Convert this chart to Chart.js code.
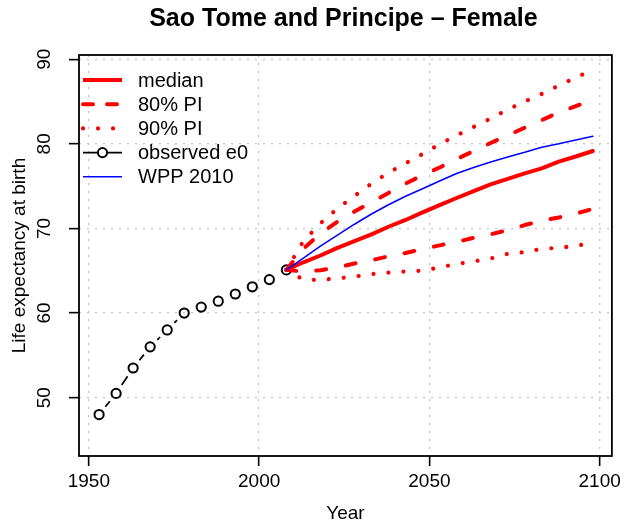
<!DOCTYPE html>
<html>
<head>
<meta charset="utf-8">
<title>Sao Tome and Principe - Female</title>
<script src="https://cdn.jsdelivr.net/npm/chart.js@4.4.1/dist/chart.umd.min.js"></script>
<style>
  html, body { margin: 0; padding: 0; background: #fff; }
  #wrap { width: 625px; height: 529px; }
</style>
</head>
<body>
<div id="wrap"><canvas id="e0chart" width="625" height="529"></canvas></div>
<script>
// observed life expectancy at birth (five-year periods)
const obsYears = [1953, 1958, 1963, 1968, 1973, 1978, 1983, 1988, 1993, 1998, 2003, 2008];
const observedE0 = [48.0, 50.5, 53.5, 56.0, 58.0, 60.0, 60.7, 61.4, 62.25, 63.1, 63.95, 65.1];

// projections
const projYears = [2008, 2013, 2018, 2023, 2028, 2033, 2038, 2043, 2048, 2053,
                   2058, 2063, 2068, 2073, 2078, 2083, 2088, 2093, 2098];
const medianE0 = [65.1, 66.0, 66.8, 67.7, 68.5, 69.3, 70.2, 71.0, 71.9, 72.75,
                  73.6, 74.4, 75.2, 75.85, 76.5, 77.1, 77.9, 78.5, 79.15];
const pi80Upper = [65.1, 67.6, 69.4, 70.8, 72.0, 73.1, 74.2, 75.3, 76.3, 77.2,
                   78.2, 79.15, 80.1, 81.0, 81.9, 82.8, 83.7, 84.45, 85.2];
const pi80Lower = [65.1, 64.9, 65.05, 65.4, 65.85, 66.25, 66.7, 67.1, 67.55, 68.0,
                   68.4, 68.9, 69.3, 69.8, 70.4, 70.9, 71.3, 71.75, 72.3];
const pi90Upper = [65.1, 68.5, 70.6, 72.35, 73.85, 75.3, 76.6, 77.7, 78.8, 79.95,
                   81.0, 82.0, 83.0, 84.05, 85.0, 85.9, 86.9, 87.85, 88.75];
const pi90Lower = [65.1, 63.95, 63.9, 64.1, 64.3, 64.6, 64.77, 64.9, 65.0, 65.4,
                   65.8, 66.1, 66.45, 67.0, 67.2, 67.6, 67.7, 67.95, 68.3];
const wpp2010 = [65.1, 66.5, 67.9, 69.2, 70.5, 71.7, 72.8, 73.8, 74.7, 75.6,
                 76.5, 77.2, 77.85, 78.45, 79.0, 79.6, 80.0, 80.45, 80.9];

const xTicks = [1950, 2000, 2050, 2100];
const yTicks = [50, 60, 70, 80, 90];

const FONT = "'Liberation Sans', Arial, Helvetica, sans-serif";
const RED = '#ff0000';

const toPts = (xs, ys) => xs.map((x, i) => ({ x: x, y: ys[i] }));

const lineStyle = (color, width, dash) => ({
  borderColor: color,
  borderWidth: width,
  borderDash: dash,
  borderCapStyle: 'round',
  borderJoinStyle: 'round',
  pointRadius: 0,
  tension: 0,
  fill: false
});

const legendRows = [
  { label: 'median', color: RED, width: 4, dash: [] },
  { label: '80% PI', color: RED, width: 4, dash: [10, 14] },
  { label: '90% PI', color: RED, width: 4.2, dash: [0.01, 15] },
  { label: 'observed e0', color: '#000', width: 1.6, dash: [], point: true },
  { label: 'WPP 2010', color: '#0000ff', width: 1.6, dash: [] }
];

// type="b" style connector: segments between observed points, with gaps round each point
const obsConnector = {
  id: 'obsConnector',
  beforeDatasetsDraw(chart) {
    const idx = chart.data.datasets.findIndex(d => d.label === 'observed e0');
    const pts = chart.getDatasetMeta(idx).data;
    const ctx = chart.ctx;
    const gap = 10;
    ctx.save();
    ctx.strokeStyle = '#000';
    ctx.lineWidth = 1.7;
    ctx.beginPath();
    for (let i = 1; i < pts.length; i++) {
      const a = pts[i - 1], b = pts[i];
      const dx = b.x - a.x, dy = b.y - a.y;
      const len = Math.hypot(dx, dy);
      if (len <= 2 * gap) continue;
      const ux = dx / len, uy = dy / len;
      ctx.moveTo(a.x + ux * gap, a.y + uy * gap);
      ctx.lineTo(b.x - ux * gap, b.y - uy * gap);
    }
    ctx.stroke();
    ctx.restore();
  }
};

// box, titles, rotated y labels and the legend
const decorations = {
  id: 'decorations',
  afterDraw(chart) {
    const ctx = chart.ctx;
    const area = chart.chartArea;
    const yScale = chart.scales.y;
    ctx.save();

    ctx.strokeStyle = '#000';
    ctx.lineWidth = 1.8;
    ctx.strokeRect(area.left, area.top, area.right - area.left, area.bottom - area.top);

    ctx.fillStyle = '#000';
    ctx.textAlign = 'center';
    ctx.textBaseline = 'middle';
    const midX = (area.left + area.right) / 2;
    ctx.font = 'bold 25px ' + FONT;
    ctx.fillText('Sao Tome and Principe \u2013 Female', midX - 2, 19);

    ctx.font = '19px ' + FONT;
    ctx.fillText('Year', midX, 514);

    ctx.save();
    ctx.translate(20, (area.top + area.bottom) / 2);
    ctx.rotate(-Math.PI / 2);
    ctx.fillText('Life expectancy at birth', 0, 0);
    ctx.restore();

    yScale.ticks.forEach(t => {
      ctx.save();
      ctx.translate(45, yScale.getPixelForValue(t.value));
      ctx.rotate(-Math.PI / 2);
      ctx.fillText(String(t.value), 0, 0);
      ctx.restore();
    });

    // legend
    const x0 = 83, x1 = 122, tx = 138;
    ctx.textAlign = 'left';
    ctx.font = '20px ' + FONT;
    legendRows.forEach((r, i) => {
      const y = 80 + i * 24.2;
      ctx.save();
      ctx.strokeStyle = r.color;
      ctx.lineWidth = r.width;
      ctx.lineCap = r.dash.length ? 'round' : 'butt';
      ctx.setLineDash(r.dash);
      ctx.beginPath();
      ctx.moveTo(x0, y);
      ctx.lineTo(x1, y);
      ctx.stroke();
      if (r.point) {
        ctx.setLineDash([]);
        ctx.lineWidth = 2;
        ctx.fillStyle = '#fff';
        ctx.beginPath();
        ctx.arc((x0 + x1) / 2, y, 4.6, 0, Math.PI * 2);
        ctx.fill();
        ctx.stroke();
      }
      ctx.restore();
      ctx.fillText(r.label, tx, y + 1);
    });

    ctx.restore();
  }
};

const gridStyle = {
  color: '#c4c4c4',
  lineWidth: 1.3,
  tickLength: 10,
  tickColor: '#000',
  tickWidth: 1.6
};

new Chart(document.getElementById('e0chart'), {
  type: 'line',
  data: {
    datasets: [
      Object.assign({ label: 'WPP 2010', data: toPts(projYears, wpp2010) }, lineStyle('#0000ff', 1.6, [])),
      Object.assign({ label: 'median', data: toPts(projYears, medianE0) }, lineStyle(RED, 4, [])),
      Object.assign({ label: '80% PI upper', data: toPts(projYears, pi80Upper) }, lineStyle(RED, 4, [10, 20])),
      Object.assign({ label: '80% PI lower', data: toPts(projYears, pi80Lower) }, lineStyle(RED, 4, [10, 20])),
      Object.assign({ label: '90% PI upper', data: toPts(projYears, pi90Upper) }, lineStyle(RED, 4.2, [0.01, 15])),
      Object.assign({ label: '90% PI lower', data: toPts(projYears, pi90Lower) }, lineStyle(RED, 4.2, [0.01, 15])),
      {
        label: 'observed e0',
        data: toPts(obsYears, observedE0),
        showLine: false,
        pointRadius: 4.6,
        pointBorderWidth: 2,
        pointBorderColor: '#000',
        pointBackgroundColor: 'rgba(0,0,0,0)'
      }
    ]
  },
  options: {
    responsive: false,
    animation: false,
    devicePixelRatio: 1,
    layout: { padding: { top: 55, right: 10, left: 0, bottom: 0 } },
    plugins: {
      legend: { display: false },
      title: { display: false },
      tooltip: { enabled: false }
    },
    scales: {
      x: {
        type: 'linear',
        min: 1947.1,
        max: 2103.6,
        afterBuildTicks: s => { s.ticks = xTicks.map(v => ({ value: v })); },
        afterFit: s => { s.height = 73; },
        ticks: {
          color: '#000',
          font: { family: FONT, size: 19 },
          padding: 4,
          maxRotation: 0,
          autoSkip: false,
          callback: v => String(v)
        },
        grid: gridStyle,
        border: { display: false, dash: [2, 6] }
      },
      y: {
        type: 'linear',
        min: 43.1,
        max: 90.5,
        afterBuildTicks: s => { s.ticks = yTicks.map(v => ({ value: v })); },
        afterFit: s => { s.width = 79; },
        ticks: { display: false },
        grid: gridStyle,
        border: { display: false, dash: [2, 6] }
      }
    }
  },
  plugins: [obsConnector, decorations]
});
</script>
</body>
</html>
